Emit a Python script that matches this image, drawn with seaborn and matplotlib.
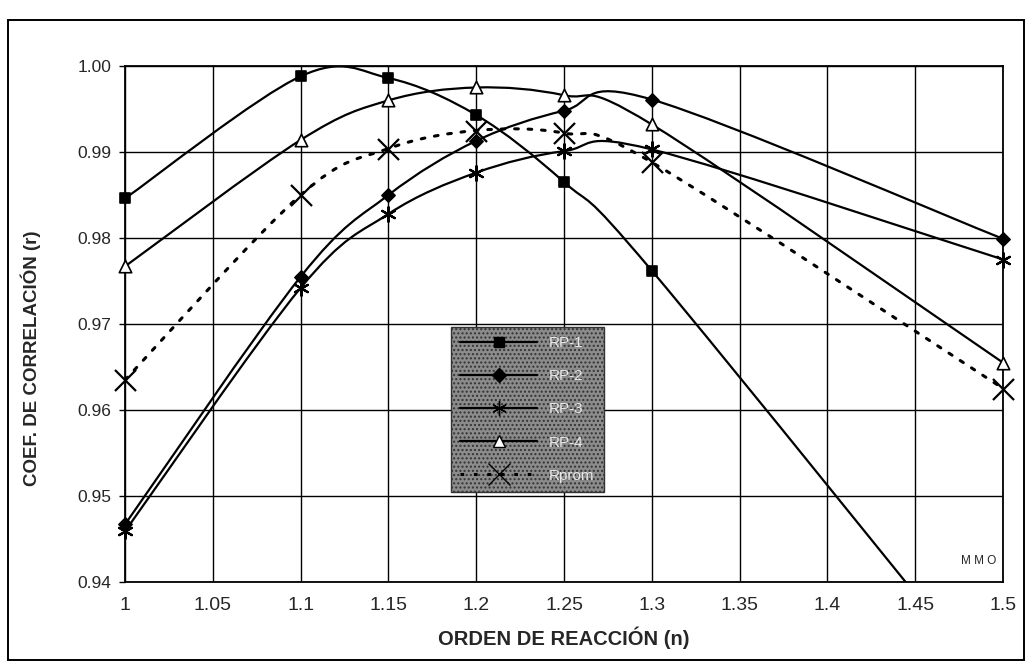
import numpy as np
import matplotlib
matplotlib.use("Agg")
import matplotlib.pyplot as plt
from matplotlib.path import Path
from matplotlib.patches import PathPatch, Rectangle
from matplotlib.lines import Line2D
import seaborn as sns

# Reaction order tested and the correlation coefficient obtained for each run
orden_n = [1.0, 1.1, 1.15, 1.2, 1.25, 1.3, 1.5]
r_rp1 = [0.9846, 0.9988, 0.9986, 0.9943, 0.9865, 0.9762, 0.9260]
r_rp2 = [0.9467, 0.9755, 0.9850, 0.9913, 0.9948, 0.9961, 0.9799]
r_rp3 = [0.9459, 0.9742, 0.9828, 0.9876, 0.9901, 0.9903, 0.9775]
r_rp4 = [0.9767, 0.9914, 0.9960, 0.9975, 0.9966, 0.9932, 0.9655]
r_prom = [0.9635, 0.9850, 0.9904, 0.9925, 0.9922, 0.9888, 0.9625]

series_names = ["RP-1", "RP-2", "RP-3", "RP-4", "Rprom"]
x_ticks = [1.0, 1.05, 1.1, 1.15, 1.2, 1.25, 1.3, 1.35, 1.4, 1.45, 1.5]
x_tick_labels = ["1", "1.05", "1.1", "1.15", "1.2", "1.25", "1.3", "1.35", "1.4", "1.45", "1.5"]
y_ticks = [0.94, 0.95, 0.96, 0.97, 0.98, 0.99, 1.00]
y_tick_labels = ["0.94", "0.95", "0.96", "0.97", "0.98", "0.99", "1.00"]

sns.set_theme(style="ticks")
plt.rcParams["font.family"] = ["Liberation Sans", "DejaVu Sans"]

fig = plt.figure(figsize=(10.34, 6.68), dpi=100)
ax = fig.add_axes([0.1209, 0.1287, 0.8492, 0.7725])


def smooth_path(xs, ys):
    """Smoothed line through the points as cubic Bezier segments (Catmull-Rom tangents)."""
    pts = np.column_stack([xs, ys]).astype(float)
    n = len(pts)
    verts = [pts[0]]
    codes = [Path.MOVETO]
    for i in range(n - 1):
        p_prev = pts[i - 1] if i > 0 else pts[i]
        p_next2 = pts[i + 2] if i + 2 < n else pts[i + 1]
        c1 = pts[i] + (pts[i + 1] - p_prev) / 6.0
        c2 = pts[i + 1] - (p_next2 - pts[i]) / 6.0
        verts += [c1, c2, pts[i + 1]]
        codes += [Path.CURVE4] * 3
    return Path(verts, codes)


styles = {
    "RP-1": dict(marker="s", s=60, fc="black", ls="-"),
    "RP-2": dict(marker="D", s=45, fc="black", ls="-"),
    "RP-3": dict(marker=(6, 2, 0), s=110, fc="black", ls="-"),
    "RP-4": dict(marker="^", s=80, fc="white", ls="-"),
    "Rprom": dict(marker="x", s=230, fc="black", ls=(0, (1.2, 3.2))),
}
values = {"RP-1": r_rp1, "RP-2": r_rp2, "RP-3": r_rp3, "RP-4": r_rp4, "Rprom": r_prom}

handles = []
for name in series_names:
    st = styles[name]
    lw = 2.2 if name == "Rprom" else 1.6
    patch = PathPatch(smooth_path(orden_n, values[name]), fill=False,
                      edgecolor="black", lw=lw, linestyle=st["ls"], zorder=3,
                      capstyle="round")
    ax.add_patch(patch)
    sns.scatterplot(x=orden_n, y=values[name], marker=st["marker"], s=st["s"],
                    color=st["fc"], edgecolor="black",
                    linewidth=1.6 if name in ("Rprom", "RP-3") else 1.2,
                    ax=ax, zorder=4, clip_on=False)
    handles.append(Line2D([0], [0], color="black", lw=lw, linestyle=st["ls"],
                          marker=st["marker"], markersize=np.sqrt(st["s"]),
                          markerfacecolor=st["fc"], markeredgecolor="black"))

ax.set_xlim(1.0, 1.5)
ax.set_ylim(0.94, 1.00)
ax.set_xticks(x_ticks)
ax.set_xticklabels(x_tick_labels, fontsize=14)
ax.set_yticks(y_ticks)
ax.set_yticklabels(y_tick_labels, fontsize=12.5)
ax.tick_params(axis="x", length=0, pad=11)
ax.tick_params(axis="y", length=4, width=1, pad=6, color="black")
ax.grid(True, color="black", lw=1.0)
ax.set_axisbelow(True)
for sp in ax.spines.values():
    sp.set_color("black")
    sp.set_linewidth(1.3)

ax.set_xlabel("ORDEN DE REACCIÓN (n)", fontsize=14.5, fontweight="bold", labelpad=9)
ax.set_ylabel("COEF. DE CORRELACIÓN (r)", fontsize=13.5, fontweight="bold")
ax.yaxis.set_label_coords(-0.096, 0.434)

ax.text(1.496, 0.9418, "M M O", fontsize=8.5, ha="right", va="bottom", zorder=5)

leg = ax.legend(handles, series_names, loc="center",
                bbox_to_anchor=(0.362, 0.165, 0.1925, 0.339),
                fontsize=11, handlelength=5.0, labelspacing=1.25,
                frameon=True, fancybox=False, borderpad=0.6)
frame = leg.get_frame()
frame.set_facecolor("#8c8c8c")
frame.set_edgecolor("#333333")
frame.set_hatch("....")
frame.set_alpha(1)
for t in leg.get_texts():
    t.set_color("#e8e8e8")

# Outer chart border
fig.patches.append(Rectangle((8 / 1034, 8 / 668), 1016 / 1034, 640 / 668,
                             transform=fig.transFigure, fill=False,
                             edgecolor="black", lw=1.4))

fig.savefig("out.png", dpi=100, facecolor="white")
